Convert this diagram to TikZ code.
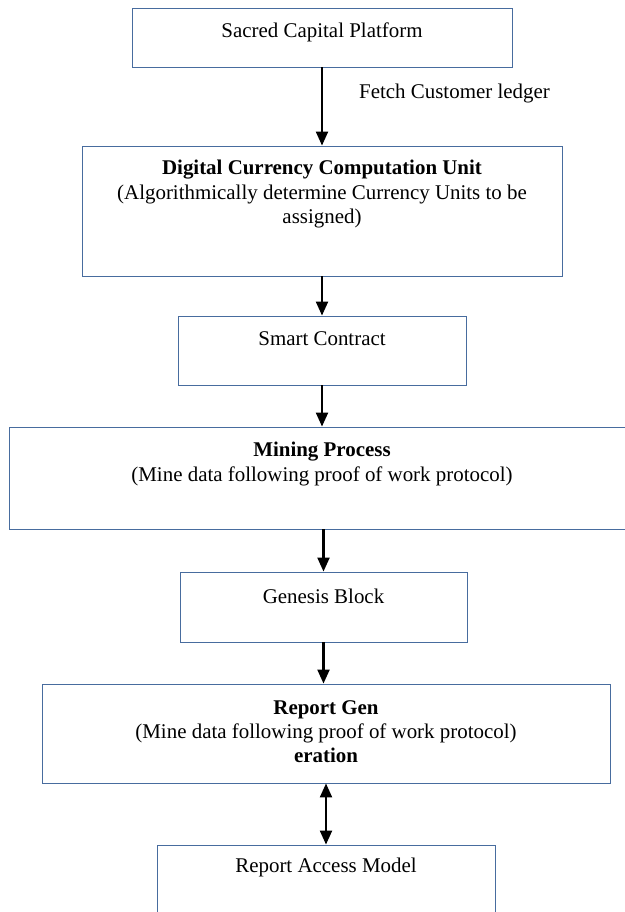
\documentclass[tikz,border=0pt]{standalone}
\usepackage{fontspec}
\setmainfont{Liberation Serif}
\usetikzlibrary{arrows.meta}
\definecolor{boxblue}{RGB}{72,108,158}
\tikzset{
  box/.style={draw=boxblue, line width=0.9bp, rectangle, inner sep=0pt},
  txt/.style={align=center, inner sep=0pt, font=\fontsize{21}{24.5}\selectfont},
  flow/.style={line width=2.2bp, -{Triangle[width=12bp,length=14bp]}},
  both/.style={line width=2.2bp, {Triangle[width=12bp,length=14bp]}-{Triangle[width=12bp,length=14bp]}}
}
\begin{document}
\begin{tikzpicture}[x=1bp,y=-1bp]
\clip (0,0) rectangle (625,912);
\fill[white] (0,0) rectangle (625,912);
% boxes
\node[box, minimum width=380bp, minimum height=59bp] (b1) at (322,37.5) {};
\node[box, minimum width=480bp, minimum height=130bp] (b2) at (322,211) {};
\node[box, minimum width=288bp, minimum height=69bp] (b3) at (322,350.5) {};
\node[box, minimum width=631bp, minimum height=102bp] (b4) at (324.5,478) {};
\node[box, minimum width=287bp, minimum height=70bp] (b5) at (323.5,607) {};
\node[box, minimum width=568bp, minimum height=99bp] (b6) at (326,733.5) {};
\node[box, minimum width=338bp, minimum height=90bp] (b7) at (326,890) {};
% texts
\node[txt] (t1) at (322,32) {Sacred Capital Platform};
\node[txt, anchor=north] (t2) at (322,160) {\textbf{Digital Currency Computation Unit}\\(Algorithmically determine Currency Units to be\\assigned)};
\node[txt] (t3) at (322,339) {Smart Contract};
\node[txt, anchor=north] (t4) at (322,442) {\textbf{Mining Process}\\(Mine data following proof of work protocol)};
\node[txt] (t5) at (323.5,596) {Genesis Block};
\node[txt, anchor=north] (t6) at (326,700) {\textbf{Report Gen}\\(Mine data following proof of work protocol)\\\textbf{eration}};
\node[txt] (t7) at (326,867) {Report Access Model};
\node[txt, anchor=west] (lbl) at (359,93) {Fetch Customer ledger};
% connectors
\draw[flow] (b1.south) -- (b2.north);
\draw[flow] (b2.south) -- (b3.north);
\draw[flow] (b3.south) -- (b3.south |- b4.north);
\draw[flow] (b5.north |- b4.south) -- (b5.north);
\draw[flow] (b5.south) -- (b5.south |- b6.north);
\draw[both] (b6.south) -- (b7.north);
\end{tikzpicture}
\end{document}
